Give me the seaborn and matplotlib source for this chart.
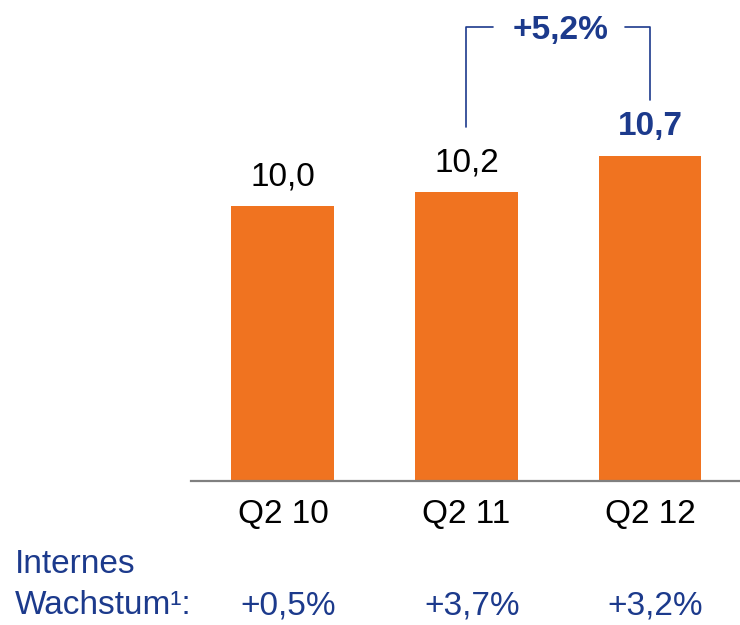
import numpy as np
import pandas as pd
import seaborn as sns
import matplotlib.pyplot as plt

quarters = ["Q2 10", "Q2 11", "Q2 12"]
values = [10.0, 10.2, 10.7]
value_labels = ["10,0", "10,2", "10,7"]
growth_labels = ["+0,5%", "+3,7%", "+3,2%"]
change_label = "+5,2%"

orange = "#F07320"
navy = "#1C3A8C"

sns.set_style("white")
plt.rcParams['font.family'] = ['Liberation Sans', 'DejaVu Sans']

df = pd.DataFrame({"quarter": quarters, "value": values})

fig = plt.figure(figsize=(7.4, 6.25), dpi=100)
ax = fig.add_axes([0.258, 0.2304, 0.742, 0.7696])

sns.barplot(data=df, x="quarter", y="value", color=orange, saturation=1,
            width=0.56, linewidth=0, ax=ax)

ax.set_ylim(6.15, 12.89)
ax.set_xlim(-0.501, 2.49)
ax.set_xlabel("")
ax.set_ylabel("")
ax.set_yticks([])
sns.despine(ax=ax, left=True)
ax.spines["bottom"].set_color("#808080")
ax.spines["bottom"].set_linewidth(1.6)
ax.tick_params(axis="x", length=0, pad=13, labelsize=24, labelcolor="black")

# value labels above bars
for i, (v, lab) in enumerate(zip(values, value_labels)):
    last = i == len(values) - 1
    ax.annotate(lab, (i, v), xytext=(0, 15), textcoords="offset points",
                ha="center", va="baseline", fontsize=24,
                color=navy if last else "black",
                fontweight="bold" if last else "normal")

# bracket showing change
ax.plot([1, 1, 1.147], [11.11, 12.51, 12.51], color=navy, lw=1.2,
        clip_on=False)
ax.plot([1.864, 2, 2], [12.51, 12.51, 11.49], color=navy, lw=1.2,
        clip_on=False)
ax.text(1.51, 12.35, change_label, ha="center", va="baseline", fontsize=24,
        fontweight="bold", color=navy)

# internal growth row
y_row = 0.017
fig.text(0.02, 0.083, "Internes", fontsize=24, color=navy, va="baseline")
fig.text(0.02, y_row, "Wachstum\u00b9:", fontsize=24, color=navy,
         va="baseline")
for i, g in enumerate(growth_labels):
    x_fig = fig.transFigure.inverted().transform(
        ax.transData.transform((i + 0.03, 0)))[0]
    fig.text(x_fig, y_row, g, fontsize=24, color=navy, ha="center",
             va="baseline")

fig.savefig("out.png", dpi=100)
